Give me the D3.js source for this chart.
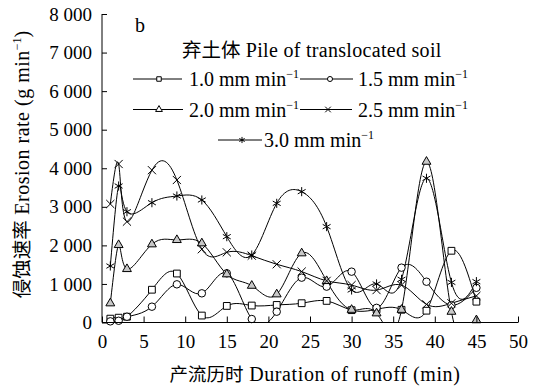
<!DOCTYPE html>
<html><head><meta charset="utf-8">
<script src="https://cdn.jsdelivr.net/npm/d3@7"></script>
<style>
html,body{margin:0;padding:0;background:#fff;}
</style></head>
<body><svg id="c" width="543" height="386"></svg>
<script>
const times = [1,2,3,6,9,12,15,18,21,24,27,30,33,36,39,42,45];
const rate10 = [100,125,150,850,1270,180,430,440,455,500,560,320,340,330,306,1860,540];
const rate15 = [30,45,150,410,990,757,1276,90,280,1163,930,1318,380,1422,1058,450,900];
const rate20 = [498,2010,1387,2028,2140,2054,1250,954,731,1795,1076,330,238,330,4170,280,60];
const rate25 = [3073,4110,2615,3950,3695,1900,1820,1733,1510,1320,1080,970,840,970,470,500,690];
const rate30 = [1465,3540,2873,3107,3280,3177,2226,1750,3090,3393,2486,843,1000,1120,3740,1040,1060];
const seriesNames = ["1.0 mm min","1.5 mm min","2.0 mm min","2.5 mm min","3.0 mm min"];
const xTicks = [0,5,10,15,20,25,30,35,40,45,50];
const yTicks = [0,1000,2000,3000,4000,5000,6000,7000,8000];
const yTickLabels = ["0","1 000","2 000","3 000","4 000","5 000","6 000","7 000","8 000"];

const SERIF = "'Liberation Serif', 'Times New Roman', serif";
const CJK = "'Noto Sans CJK SC', sans-serif";

const svg = d3.select("#c");
const x = d3.scaleLinear().domain([0,50]).range([102,518]);
const y = d3.scaleLinear().domain([0,8000]).range([322.5,14]);

const series = [
  {vals:rate10, sym:d3.symbolSquare, size:46, lsize:20, fill:"#fff"},
  {vals:rate15, sym:d3.symbolCircle, size:44, lsize:20, fill:"#fff"},
  {vals:rate20, sym:d3.symbolTriangle, size:34, lsize:20, fill:"#c8c8c8"},
  {vals:rate25, sym:d3.symbolTimes, size:45, lsize:22, fill:"none"},
  {vals:rate30, sym:d3.symbolAsterisk, size:58, lsize:26, fill:"none"}
];

svg.append("defs").append("clipPath").attr("id","clip")
  .append("rect").attr("x",x(0)).attr("y",y(8000)).attr("width",x(50)-x(0)).attr("height",y(0)-y(8000));

const line = d3.line().x((d,i)=>x(times[i])).y(d=>y(d)).curve(d3.curveNatural);
const g = svg.append("g");
series.forEach(s=>{
  g.append("path").attr("d",line(s.vals)).attr("fill","none").attr("stroke","#000")
   .attr("stroke-width",1).attr("clip-path","url(#clip)");
});
series.forEach(s=>{
  g.selectAll(null).data(s.vals).enter().append("path")
   .attr("d",d3.symbol().type(s.sym).size(s.size))
   .attr("transform",(d,i)=>`translate(${x(times[i])},${y(d)})`)
   .attr("fill",s.fill).attr("stroke","#000").attr("stroke-width",1);
});

// axes
const yAxis = d3.axisLeft(y).tickValues(yTicks).tickSize(-5).tickPadding(10).tickFormat((d,i)=>yTickLabels[i]);
const ya = svg.append("g").attr("transform",`translate(${x(0)},0)`).call(yAxis);
const xAxis = d3.axisBottom(x).tickValues(xTicks).tickSize(-6).tickPadding(12);
const xa = svg.append("g").attr("transform",`translate(0,${y(0)})`).call(xAxis);
[ya,xa].forEach(a=>{
  a.attr("font-family",null);
  a.select(".domain").attr("stroke","#000").attr("stroke-width",1);
  a.selectAll(".tick line").attr("stroke","#000");
  a.selectAll(".tick text").style("font-family",SERIF).style("font-size","19px").attr("fill","#000");
});
ya.select(".domain").attr("d",`M0,${y(8000)}V${y(0)}`);
xa.select(".domain").attr("d",`M${x(0)},0H${x(50)}`);

function txt(sel){ return sel.style("font-family",SERIF).attr("fill","#000"); }

// axis titles
const xt = txt(svg.append("text")).attr("x",315).attr("y",381).attr("text-anchor","middle").style("font-size","20px");
xt.append("tspan").style("font-family",CJK).style("font-size","18.5px").text("产流历时");
xt.append("tspan").attr("letter-spacing","0.6").text(" Duration of runoff (min)");

const yt = txt(svg.append("text")).attr("transform","translate(29,164.5) rotate(-90)").attr("text-anchor","middle").style("font-size","20px");
yt.append("tspan").style("font-family",CJK).style("font-size","19.5px").text("侵蚀速率");
yt.append("tspan").attr("letter-spacing","0.5").text(" Erosion rate (g min");
yt.append("tspan").style("font-size","12px").attr("dy",-8).text("−1");
yt.append("tspan").attr("dy",8).text(")");

// panel letter and legend
txt(svg.append("text")).attr("x",135).attr("y",32).style("font-size","20px").text("b");
const tt = txt(svg.append("text")).attr("x",182).attr("y",57).style("font-size","20px");
tt.append("tspan").style("font-family",CJK).style("font-size","19.5px").text("弃土体");
tt.append("tspan").attr("letter-spacing","0.3").text(" Pile of translocated soil");

const legPos = [
  {x1:133,x2:182,mx:159,ty:86,tx:189,ly:79},
  {x1:300,x2:353,mx:330,ty:86,tx:358,ly:79},
  {x1:133,x2:183,mx:159,ty:117,tx:189,ly:109.5},
  {x1:300,x2:352,mx:328,ty:117,tx:358,ly:109.5},
  {x1:218,x2:262,mx:242,ty:147,tx:264,ly:140}
];
series.forEach((s,i)=>{
  const p = legPos[i];
  svg.append("line").attr("x1",p.x1).attr("x2",p.x2).attr("y1",p.ly).attr("y2",p.ly).attr("stroke","#000").attr("stroke-width",1);
  svg.append("path").attr("d",d3.symbol().type(s.sym).size(s.lsize)).attr("transform",`translate(${p.mx},${p.ly})`)
    .attr("fill",s.fill==="none"?"none":"#fff").attr("stroke","#000").attr("stroke-width",1);
  const t = txt(svg.append("text")).attr("x",p.tx).attr("y",p.ty).style("font-size","20px");
  t.append("tspan").text(seriesNames[i]);
  t.append("tspan").style("font-size","12px").attr("dy",-8).text("−1");
});
</script></body></html>
